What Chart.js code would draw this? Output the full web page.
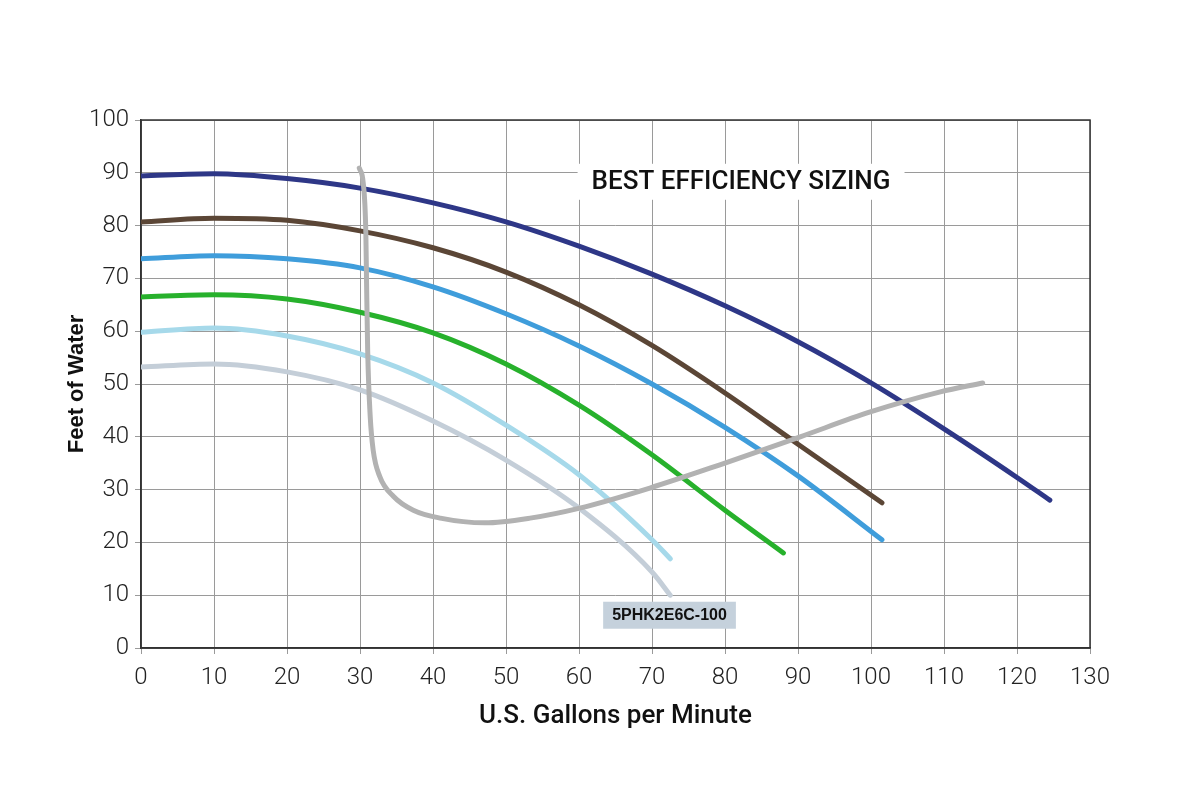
<!DOCTYPE html>
<html>
<head>
<meta charset="utf-8">
<script src="https://cdn.jsdelivr.net/npm/chart.js@4/dist/chart.umd.min.js"></script>
<style>
  html, body { margin: 0; padding: 0; background: #fff; }
  #wrap { width: 1200px; height: 800px; }
</style>
</head>
<body>
<div id="wrap"><canvas id="myChart"></canvas></div>
<script>
// pump curves (GPM -> feet of head)
const navyGpm  = [0, 10, 20, 30, 40, 50, 60, 70, 80, 90, 100, 110, 120, 124.5];
const navyHead = [89.4, 89.8, 88.9, 87.1, 84.3, 80.7, 76.1, 70.8, 64.8, 58, 50.2, 41.5, 32.3, 28];

const brownGpm  = [0, 10, 20, 30, 40, 50, 60, 70, 80, 90, 101.5];
const brownHead = [80.7, 81.4, 81, 79, 75.8, 71.2, 65, 57.3, 48.3, 38.6, 27.5];

const blueGpm  = [0, 10, 20, 30, 40, 50, 60, 70, 80, 90, 101.5];
const blueHead = [73.7, 74.3, 73.7, 72, 68.4, 63.3, 57.2, 50, 41.8, 32.6, 20.5];

const greenGpm  = [0, 10, 20, 30, 40, 50, 60, 70, 80, 88];
const greenHead = [66.5, 66.9, 66.1, 63.6, 59.7, 53.8, 46, 36.6, 26.1, 18];

const paleGpm  = [0, 10, 20, 30, 40, 50, 60, 70, 72.5];
const paleHead = [59.8, 60.6, 59.1, 55.7, 50.2, 42.2, 32.8, 20.5, 16.9];

const greyGpm  = [0, 10, 20, 30, 40, 50, 60, 70, 72.5];
const greyHead = [53.2, 53.8, 52.3, 48.9, 43, 35.6, 26.5, 14.4, 10];

// best efficiency curve
const effGpm  = [29.9, 30.45, 30.8, 30.9, 31.05, 31.4, 31.8, 32.7, 34.6, 37.3, 41, 47.1, 53.3, 60.1, 69.7, 79.3, 90.3, 99.9, 109.5, 115.3];
const effHead = [90.9, 88, 78.6, 69.1, 56.4, 43.8, 37.5, 32.5, 28.7, 26.1, 24.6, 23.7, 24.6, 26.5, 30.3, 34.7, 40, 44.7, 48.5, 50.2];

const xTicks = [0, 10, 20, 30, 40, 50, 60, 70, 80, 90, 100, 110, 120, 130];
const yTicks = [0, 10, 20, 30, 40, 50, 60, 70, 80, 90, 100];

const bestLabel = 'BEST EFFICIENCY SIZING';
const modelLabel = '5PHK2E6C-100';

function pts(xs, ys) {
  return xs.map((x, i) => ({x: x, y: ys[i]}));
}

function curve(xs, ys, color, order) {
  return {
    data: pts(xs, ys),
    borderColor: color,
    borderWidth: 5,
    borderCapStyle: 'round',
    borderJoinStyle: 'round',
    pointRadius: 0,
    showLine: true,
    cubicInterpolationMode: 'monotone',
    fill: false,
    order: order
  };
}

// frame + text boxes
const extras = {
  id: 'extras',
  beforeDatasetsDraw(chart) {
    const ctx = chart.ctx;
    const xs = chart.scales.x, ys = chart.scales.y;
    const a = chart.chartArea;
    ctx.save();
    // white box behind the title text
    ctx.font = '500 26px Roboto';
    let cx = xs.getPixelForValue(82.2), cy = ys.getPixelForValue(88.3);
    let w = ctx.measureText(bestLabel).width;
    ctx.fillStyle = '#fff';
    ctx.fillRect(cx - w / 2 - 14, cy - 18, w + 28, 36);
    ctx.fillStyle = '#111';
    ctx.textAlign = 'center';
    ctx.textBaseline = 'middle';
    ctx.fillText(bestLabel, cx, cy + 1);
    // model tag
    ctx.font = 'bold 16px "Liberation Sans"';
    cx = xs.getPixelForValue(72.4); cy = ys.getPixelForValue(6.3);
    w = ctx.measureText(modelLabel).width;
    ctx.fillStyle = '#c5d1dc';
    ctx.fillRect(cx - w / 2 - 9, cy - 13, w + 18, 27);
    ctx.fillStyle = '#111';
    ctx.fillText(modelLabel, cx, cy + 1);
    // dark frame
    ctx.strokeStyle = '#333';
    ctx.lineWidth = 1.5;
    ctx.strokeRect(a.left, a.top, a.right - a.left, a.bottom - a.top);
    ctx.restore();
  }
};

new Chart(document.getElementById('myChart'), {
  type: 'scatter',
  data: {
    datasets: [
      curve(navyGpm, navyHead, '#2e3787', 2),
      curve(brownGpm, brownHead, '#5b4636', 2),
      curve(blueGpm, blueHead, '#3f9ddb', 2),
      curve(greenGpm, greenHead, '#27b12c', 2),
      curve(paleGpm, paleHead, '#a6d9ea', 2),
      curve(greyGpm, greyHead, '#c4ced8', 2),
      curve(effGpm, effHead, '#b2b2b2', 1)
    ]
  },
  options: {
    responsive: true,
    maintainAspectRatio: false,
    animation: false,
    layout: { padding: { left: 0, top: 120, right: 110, bottom: 0 } },
    plugins: { legend: { display: false }, tooltip: { enabled: false } },
    scales: {
      x: {
        type: 'linear',
        min: 0, max: 130,
        afterBuildTicks: (s) => { s.ticks = xTicks.map(v => ({value: v})); },
        afterFit: (s) => { s.height = 152; },
        grid: { color: '#9a9a9a', lineWidth: 1, tickLength: 6 },
        border: { color: '#333', width: 1.5 },
        ticks: { color: '#222', font: { family: 'Roboto', weight: '300', size: 24 }, padding: 10, maxRotation: 0 },
        title: {
          display: true,
          text: 'U.S. Gallons per Minute',
          color: '#111',
          font: { family: 'Roboto', weight: '500', size: 26 },
          padding: { top: 0, bottom: 68 }
        }
      },
      y: {
        type: 'linear',
        min: 0, max: 100,
        afterBuildTicks: (s) => { s.ticks = yTicks.map(v => ({value: v})); },
        afterFit: (s) => { s.width = 141; },
        grid: { color: '#9a9a9a', lineWidth: 1, tickLength: 6 },
        border: { color: '#333', width: 1.5 },
        ticks: { color: '#222', font: { family: 'Roboto', weight: '300', size: 24 }, padding: 6 },
        title: {
          display: true,
          text: 'Feet of Water',
          color: '#111',
          font: { family: 'Liberation Sans', weight: 'bold', size: 22 },
          padding: { top: 64, bottom: 0 }
        }
      }
    }
  },
  plugins: [extras]
});
</script>
</body>
</html>
